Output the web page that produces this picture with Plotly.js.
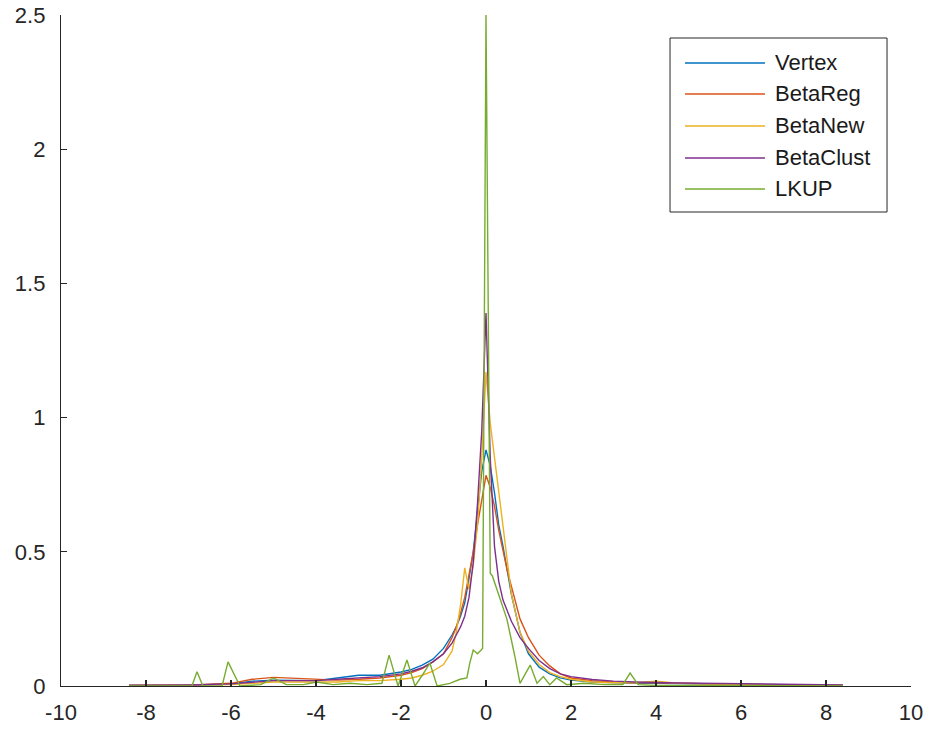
<!DOCTYPE html>
<html>
<head>
<meta charset="utf-8">
<script src="https://cdn.plot.ly/plotly-3.0.1.min.js"></script>
<style>html,body{margin:0;padding:0;background:#fff;}#chart{width:930px;height:734px;}</style>
</head>
<body>
<div id="chart"></div>
<script>
// Shared x grid for the smooth density curves
var xGrid = [-8.4,-7,-6,-5.5,-5,-4.5,-4,-3.5,-3,-2.5,-2,-1.75,-1.5,-1.25,-1,-0.8,-0.7,-0.6,-0.5,-0.4,-0.3,-0.2,-0.1,0,0.1,0.2,0.3,0.4,0.5,0.6,0.8,1,1.25,1.5,1.75,2,2.5,3,3.5,4,4.5,5,6,7,8.4];

var yVertex = [0.002,0.003,0.008,0.018,0.022,0.02,0.02,0.03,0.04,0.04,0.052,0.062,0.078,0.1,0.14,0.19,0.22,0.26,0.31,0.4,0.5,0.65,0.8,0.88,0.82,0.72,0.6,0.52,0.43,0.34,0.2,0.12,0.07,0.045,0.03,0.022,0.015,0.012,0.01,0.01,0.009,0.008,0.005,0.004,0.002];

var yBetaReg = [0.001,0.003,0.01,0.025,0.032,0.028,0.025,0.022,0.025,0.03,0.04,0.05,0.065,0.09,0.12,0.18,0.22,0.27,0.33,0.41,0.5,0.6,0.7,0.785,0.74,0.67,0.58,0.5,0.43,0.37,0.25,0.18,0.115,0.075,0.045,0.03,0.02,0.015,0.012,0.012,0.01,0.008,0.006,0.004,0.002];

var yBetaNew = [0.003,0.003,0.005,0.01,0.015,0.015,0.015,0.015,0.02,0.02,0.025,0.03,0.04,0.055,0.08,0.13,0.2,0.3,0.44,0.36,0.45,0.6,0.85,1.17,0.98,0.85,0.72,0.6,0.47,0.34,0.2,0.13,0.08,0.05,0.035,0.025,0.015,0.012,0.012,0.018,0.01,0.008,0.005,0.004,0.002];

var yBetaClust = [0.003,0.004,0.008,0.015,0.02,0.02,0.02,0.025,0.03,0.035,0.045,0.055,0.068,0.09,0.12,0.16,0.19,0.22,0.26,0.33,0.46,0.68,0.95,1.39,0.85,0.52,0.39,0.32,0.28,0.24,0.18,0.14,0.095,0.065,0.045,0.035,0.024,0.018,0.015,0.012,0.011,0.01,0.008,0.006,0.004];

// LKUP has its own, finer sampling
var xLKUP = [-8.4,-7.2,-6.92,-6.8,-6.66,-6.21,-6.07,-5.79,-5.3,-5.0,-4.7,-4.3,-3.98,-3.6,-3.2,-2.8,-2.45,-2.28,-2.07,-1.86,-1.67,-1.5,-1.32,-1.15,-0.85,-0.61,-0.45,-0.38,-0.3,-0.2,-0.08,0,0.1,0.15,0.26,0.49,0.68,0.8,1.04,1.2,1.35,1.5,1.66,1.9,2.3,2.8,3.22,3.39,3.58,4.0,5,6,7,8.4];
var yLKUP = [0,0,0,0.053,0,0,0.09,0,0.005,0.03,0.005,0.005,0.015,0.005,0.01,0.005,0.01,0.115,0,0.097,0,0.04,0.085,0,0.01,0.025,0.03,0.086,0.134,0.12,0.14,2.5,0.42,0.41,0.36,0.25,0.11,0.01,0.078,0.01,0.035,0.005,0.03,0.005,0.01,0.005,0.005,0.048,0.005,0.002,0.002,0.001,0,0];

var seriesNames = ['Vertex','BetaReg','BetaNew','BetaClust','LKUP'];
var seriesColors = ['#0072BD','#D95319','#EDB120','#7E2F8E','#77AC30'];

var xTickVals = [-10,-8,-6,-4,-2,0,2,4,6,8,10];
var xTickText = ['-10','-8','-6','-4','-2','0','2','4','6','8','10'];

var seriesX = [xGrid, xGrid, xGrid, xGrid, xLKUP];
var seriesY = [yVertex, yBetaReg, yBetaNew, yBetaClust, yLKUP];

var traces = seriesNames.map(function(n, i){
  return {x: seriesX[i], y: seriesY[i], type:'scatter', mode:'lines', name:n,
          line:{color:seriesColors[i], width:1.4}, showlegend:false};
});

// Custom MATLAB-style legend (box, line samples, labels)
var L = {x0:0.7165, x1:0.9718, y0:0.7064, y1:0.9657, lx0:0.7341, lx1:0.8282, tx:0.8376,
         rows:[0.9285,0.8823,0.8346,0.7869,0.7407]};
var shapes = [{type:'rect', xref:'paper', yref:'paper', x0:L.x0, x1:L.x1, y0:L.y0, y1:L.y1,
               line:{color:'#262626', width:1}, fillcolor:'#ffffff', layer:'above'}];
var annotations = [];
seriesNames.forEach(function(n, i){
  shapes.push({type:'line', xref:'paper', yref:'paper', x0:L.lx0, x1:L.lx1, y0:L.rows[i], y1:L.rows[i],
               line:{color:seriesColors[i], width:1.4}, layer:'above'});
  annotations.push({xref:'paper', yref:'paper', x:L.tx, y:L.rows[i], xanchor:'left', yanchor:'middle',
               text:n, showarrow:false, font:{family:'Liberation Sans, Arial, sans-serif', size:22, color:'#1a1a1a'}});
});

var axisFont = {family:'Liberation Sans, Arial, sans-serif', size:22, color:'#262626'};
var layout = {
  width:930, height:734,
  margin:{l:61, r:19, t:15, b:48},
  paper_bgcolor:'#ffffff', plot_bgcolor:'#ffffff',
  showlegend:false,
  xaxis:{range:[-10,10], tickmode:'array', tickvals:xTickVals, ticktext:xTickText,
         ticks:'inside', ticklen:6, tickwidth:1.2, tickcolor:'#262626',
         showline:true, linecolor:'#262626', linewidth:1.2, showgrid:false, zeroline:false,
         tickfont:axisFont, ticklabelstandoff:6, fixedrange:true},
  yaxis:{range:[0,2.5], tickmode:'linear', tick0:0, dtick:0.5,
         ticks:'inside', ticklen:6, tickwidth:1.2, tickcolor:'#262626',
         showline:true, linecolor:'#262626', linewidth:1.2, showgrid:false, zeroline:false,
         tickfont:axisFont, ticklabelstandoff:10, fixedrange:true},
  shapes:shapes,
  annotations:annotations
};

Plotly.newPlot('chart', traces, layout, {displayModeBar:false, staticPlot:true});
</script>
</body>
</html>
